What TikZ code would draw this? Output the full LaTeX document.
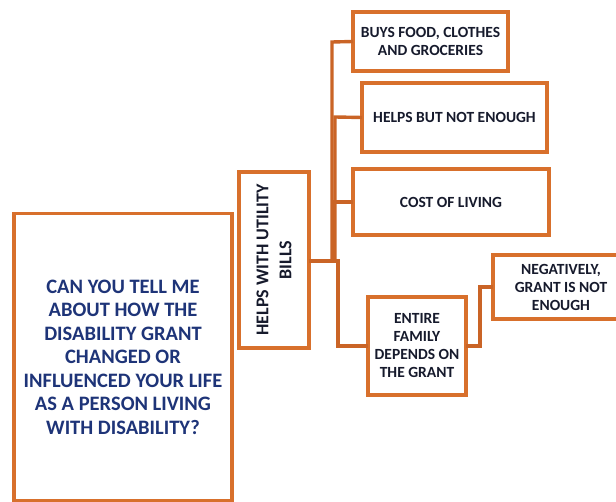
\documentclass[tikz,border=0pt]{standalone}
\usepackage{fontspec}
\setmainfont{Carlito}
\definecolor{boxedge}{RGB}{216,112,44}
\definecolor{linkline}{RGB}{202,100,38}
\definecolor{asktext}{RGB}{30,52,120}
\definecolor{itemtext}{RGB}{22,26,44}
\begin{document}
\begin{tikzpicture}[x=1pt,y=-1pt,
  box/.style={draw=boxedge,line width=3.2pt,fill=white,inner sep=0pt,outer sep=0pt,
    align=center,font=\bfseries\fontsize{15.5}{18}\selectfont,text=itemtext},
  link/.style={draw=linkline,line width=3.4pt,line join=miter}]
\useasboundingbox (0,0) rectangle (616,502);

% main question
\node[box,minimum width=218,minimum height=287,text=asktext,
  font=\bfseries\fontsize{20.5}{23.5}\selectfont] (ask) at (123,357)
  {CAN YOU TELL ME\\ABOUT HOW THE\\DISABILITY GRANT\\CHANGED OR\\INFLUENCED YOUR LIFE\\AS A PERSON LIVING\\WITH DISABILITY?};

% first-level theme, set sideways
\node[box,rotate=90,minimum width=176,minimum height=70,
  font=\bfseries\fontsize{18}{23}\selectfont] (bills) at (274,260)
  {HELPS WITH UTILITY\\BILLS};

% sub-themes
\node[box,minimum width=155,minimum height=59] (food) at (430.5,41.5)
  {BUYS FOOD, CLOTHES\\AND GROCERIES};
\node[box,minimum width=185,minimum height=69] (notenough) at (454.5,117.5)
  {HELPS BUT NOT ENOUGH};
\node[box,minimum width=196,minimum height=66] (cost) at (451,202)
  {COST OF LIVING};
\node[box,minimum width=98,minimum height=98] (family) at (417,346)
  {ENTIRE\\FAMILY\\DEPENDS ON\\THE GRANT};
\node[box,minimum width=136,minimum height=64] (negative) at (561,287)
  {NEGATIVELY,\\GRANT IS NOT\\ENOUGH};

% elbow connectors
\coordinate (root) at ([yshift=-1]bills.south);
\draw[link] (root) -| (332,42) -- (food.west);
\draw[link] (root) -| (335,117) -- (notenough.west);
\draw[link] (root) -| (333,202) -- (cost.west);
\draw[link] (root) -| (338,346) -- (family.west);
\draw[link] (family.east) -| (480,287) -- (negative.west);
\end{tikzpicture}
\end{document}
